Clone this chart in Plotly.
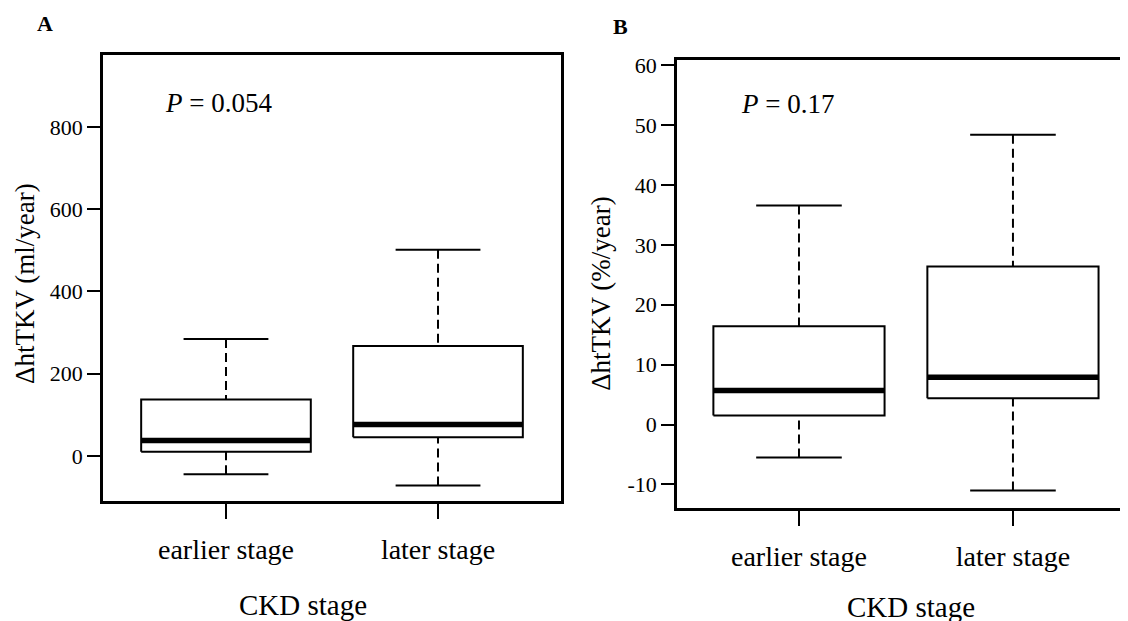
import plotly.graph_objects as go

# ---- data ----
categories = ["earlier stage", "later stage"]

# Panel A: ΔhtTKV (ml/year)
a_lower = [-45, -72]
a_q1 = [10, 45]
a_median = [37, 76]
a_q3 = [137, 267]
a_upper = [284, 501]
a_ticks = [0, 200, 400, 600, 800]

# Panel B: ΔhtTKV (%/year)
b_lower = [-5.5, -11.0]
b_q1 = [1.5, 4.4]
b_median = [5.7, 7.9]
b_q3 = [16.4, 26.4]
b_upper = [36.6, 48.4]
b_ticks = [-10, 0, 10, 20, 30, 40, 50, 60]

p_values = ["0.054", "0.17"]

W, H = 1128, 621
OFF = 8  # page body margin offset
FONT = "Liberation Serif"
BOX_HALF = 0.4
CAP_HALF = 0.2


def fx(p):
    return (p - OFF) / W


def fy(p):
    return 1 - (p - OFF) / H


def box_traces(lower, q1, med, q3, upper, xa, ya):
    bx, by, mx, my, wx, wy, cx, cy = [], [], [], [], [], [], [], []
    for i in range(len(categories)):
        c = i + 1
        bx += [c - BOX_HALF, c + BOX_HALF, c + BOX_HALF, c - BOX_HALF, c - BOX_HALF, None]
        by += [q1[i], q1[i], q3[i], q3[i], q1[i], None]
        mx += [c - BOX_HALF, c + BOX_HALF, None]
        my += [med[i], med[i], None]
        wx += [c, c, None, c, c, None]
        wy += [upper[i], q3[i], None, lower[i], q1[i], None]
        cx += [c - CAP_HALF, c + CAP_HALF, None, c - CAP_HALF, c + CAP_HALF, None]
        cy += [upper[i], upper[i], None, lower[i], lower[i], None]
    common = dict(xaxis=xa, yaxis=ya, mode="lines", showlegend=False, hoverinfo="skip")
    return [
        go.Scatter(x=wx, y=wy, line=dict(color="black", width=2, dash="9px,5px"), **common),
        go.Scatter(x=cx, y=cy, line=dict(color="black", width=2), **common),
        go.Scatter(x=bx, y=by, line=dict(color="black", width=2), fill="toself",
                   fillcolor="white", **common),
        go.Scatter(x=mx, y=my, line=dict(color="black", width=5.5), **common),
    ]


fig = go.Figure()
for t in box_traces(a_lower, a_q1, a_median, a_q3, a_upper, "x", "y"):
    fig.add_trace(t)
for t in box_traces(b_lower, b_q1, b_median, b_q3, b_upper, "x2", "y2"):
    fig.add_trace(t)

axis_common = dict(showgrid=False, zeroline=False, showline=True, linecolor="black",
                   ticks="outside", tickcolor="black", tickwidth=2,
                   tickfont=dict(family=FONT, size=22, color="black"))
xcommon = dict(axis_common, tickvals=[1, 2], ticktext=categories, ticklen=15,
               tickfont=dict(family=FONT, size=28, color="black"), ticklabelstandoff=6)

fig.update_layout(
    width=W, height=H,
    margin=dict(l=0, r=0, t=0, b=0),
    paper_bgcolor="white", plot_bgcolor="white",
    xaxis=dict(xcommon, domain=[fx(103), fx(561)], range=[0.42, 2.58], mirror=True,
               linewidth=2.5, anchor="y"),
    yaxis=dict(axis_common, domain=[fy(500), fy(48)], range=[-111, 976],
               tickvals=a_ticks, ticktext=[str(v) for v in a_ticks], ticklen=13,
               mirror=True, linewidth=2.5, anchor="x"),
    xaxis2=dict(xcommon, domain=[fx(677), 1.0], range=[0.43, 2.575], mirror=True,
                linewidth=2.5, anchor="y2"),
    yaxis2=dict(axis_common, domain=[fy(507), fy(54)], range=[-14.0, 60.8],
                tickvals=b_ticks, ticktext=[str(v) for v in b_ticks], ticklen=13,
                mirror=False, linewidth=2.5, anchor="x2"),
)


def ann(text, px, py, size, xanchor="center", yanchor="middle", angle=0):
    fig.add_annotation(text=text, x=fx(px), y=fy(py), xref="paper", yref="paper",
                       xanchor=xanchor, yanchor=yanchor, showarrow=False, textangle=angle,
                       font=dict(family=FONT, size=size, color="black"))


ann("<b>A</b>", 45, 17, 22)
ann("<b>B</b>", 620, 20, 22)
ann("ΔhtTKV (ml/year)", 25, 280, 27, angle=-90)
ann("ΔhtTKV (%/year)", 601, 290, 27, angle=-90)
ann("CKD stage", 303, 605, 29)
ann("CKD stage", 911, 607, 29)
ann("<i>P</i> = " + p_values[0], 163, 97, 27, xanchor="left")
ann("<i>P</i> = " + p_values[1], 739, 98, 27, xanchor="left")

fig.write_html("out.html")
